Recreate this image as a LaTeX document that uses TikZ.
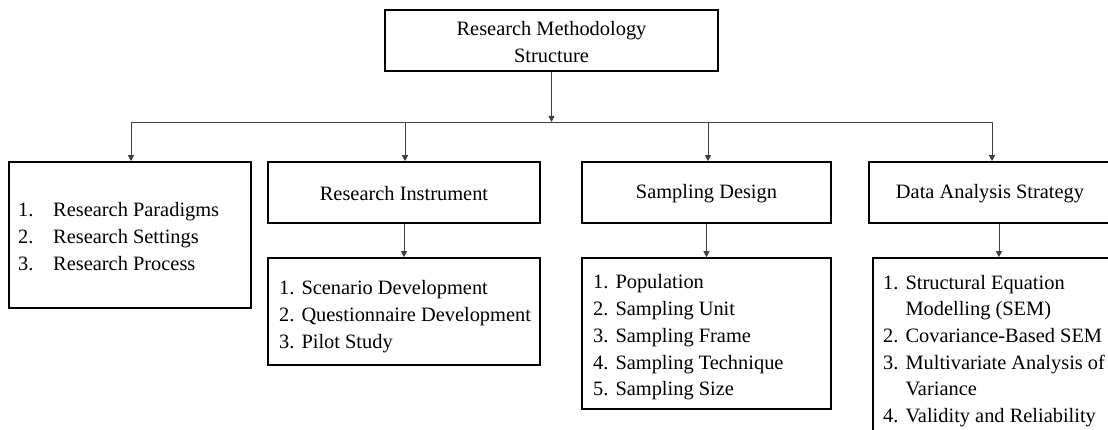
\documentclass[tikz,border=0pt]{standalone}
\usepackage{fontspec}
\setmainfont{Liberation Serif}
\usetikzlibrary{arrows.meta}
\begin{document}
\begin{tikzpicture}[x=1pt,y=-1pt,
  box/.style={draw=black,line width=1.6pt,fill=white,rectangle,inner sep=0pt},
  txt/.style={inner sep=0pt,align=center,font=\fontsize{20.4}{26.7}\selectfont},
  lst/.style={inner sep=0pt,anchor=west,font=\fontsize{20.4}{26.7}\selectfont},
  link/.style={draw=black!75,line width=0.9pt},
  arr/.style={link,-{Triangle[width=6pt,length=6pt]}}]
\useasboundingbox (0,0) rectangle (1108,430);
\clip (0,0) rectangle (1108,430);

% top level
\node[box,minimum width=333pt,minimum height=61pt] (top) at (551.5,40.5) {};
\node[txt] (topt) at (551.5,42) {Research Methodology\\Structure};

% second level boxes
\node[box,minimum width=242pt,minimum height=146pt] (left) at (130,235) {};
\node[box,minimum width=272pt,minimum height=61pt] (ri) at (404,192.5) {};
\node[box,minimum width=249pt,minimum height=61pt] (sd) at (706.5,192.5) {};
\node[box,minimum width=242pt,minimum height=61pt] (da) at (990,192.5) {};
\node[txt] (rit) at (404,194) {Research Instrument};
\node[txt] (sdt) at (706.5,194) {Sampling Design};
\node[txt] (dat) at (990,194) {Data Analysis Strategy};

% third level boxes
\node[box,minimum width=272pt,minimum height=107pt] (ris) at (404,311.5) {};
\node[box,minimum width=249pt,minimum height=151pt] (sds) at (706.5,333.5) {};
\node[box,minimum width=252pt,minimum height=200pt] (das) at (999,358) {};

% list texts
\node[lst] (leftt) at (18,238) {\begin{tabular}{@{}l@{\hspace{19.7pt}}l@{}}
1.&Research Paradigms\\2.&Research Settings\\3.&Research Process\end{tabular}};
\node[lst] (rist) at (279,316) {\begin{tabular}{@{}l@{\hspace{7pt}}l@{}}
1.&Scenario Development\\2.&Questionnaire Development\\3.&Pilot Study\end{tabular}};
\node[lst] (sdst) at (593,337) {\begin{tabular}{@{}l@{\hspace{7pt}}l@{}}
1.&Population\\2.&Sampling Unit\\3.&Sampling Frame\\4.&Sampling Technique\\5.&Sampling Size\end{tabular}};
\node[lst] (dast) at (883,350.5) {\begin{tabular}{@{}l@{\hspace{7pt}}l@{}}
1.&Structural Equation\\&Modelling (SEM)\\2.&Covariance-Based SEM\\3.&Multivariate Analysis of\\&Variance\\4.&Validity and Reliability\end{tabular}};

% connectors
\coordinate (bus) at (551.5,122);
\coordinate (busL) at (131,122);
\coordinate (busR) at (992,122);
\coordinate (busA) at (405,122);
\coordinate (busB) at (708,122);
\draw[arr] (top.south) -- (bus);
\draw[link] (busL) -- (busR);
\draw[arr] (busL) -- (busL |- left.north);
\draw[arr] (busA) -- (busA |- ri.north);
\draw[arr] (busB) -- (busB |- sd.north);
\draw[arr] (busR) -- (busR |- da.north);
\draw[arr] (ri.south) -- (ris.north);
\draw[arr] (sd.south) -- (sds.north);
\draw[arr] (da.south -| das.north) -- (das.north);
\end{tikzpicture}
\end{document}
